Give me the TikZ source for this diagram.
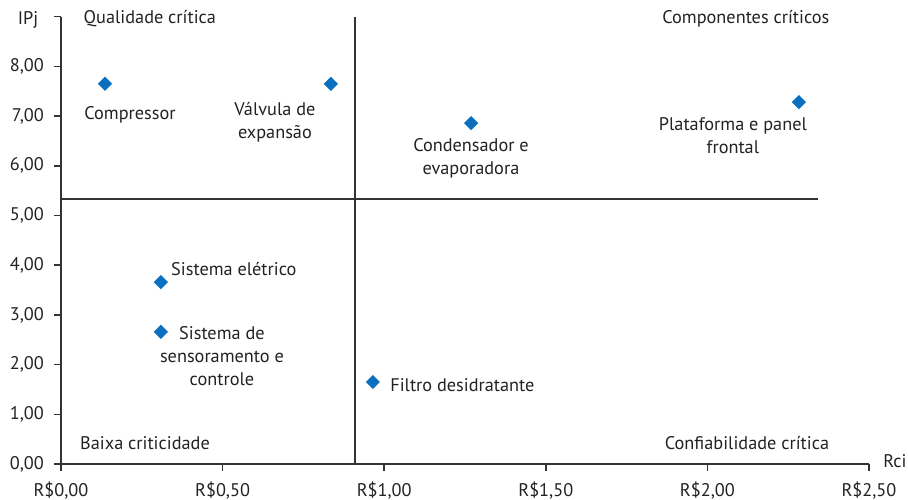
\documentclass[tikz,border=0pt]{standalone}
\usepackage{fontspec}
\setmainfont{PT Sans}
\usepackage{xcolor}
\definecolor{chartAxis}{HTML}{333333}
\definecolor{chartMark}{HTML}{0B6FBF}
\definecolor{chartText}{HTML}{222222}
\usetikzlibrary{shapes.geometric,positioning}
\tikzset{
    axisline/.style={
        draw=chartAxis,
        line width=0.9pt
    },
    divider/.style={
        draw=chartAxis,
        line width=1.1pt
    },
    point/.style={
        diamond,
        fill=chartMark,
        inner sep=0pt,
        minimum size=0.29cm
    },
    tag/.style={
        font=\fontsize{10.4}{13.2}\selectfont,
        text=chartText,
        align=center,
        inner sep=0pt
    },
    ticklabel/.style={
        tag,
        inner sep=1pt
    }
}

\begin{document}
\begin{tikzpicture}[x=6.464cm, y=0.994cm]
    \useasboundingbox (-0.1887,-0.7243) rectangle (2.6207,9.336);

    % Axes
    \coordinate (origin) at (0,0);
    \coordinate (ytop) at (0,9);
    \coordinate (xend) at (2.5,0);
    \draw[axisline] (ytop) -- (origin) -- (xend);
    \foreach \y in {0,...,9} {
        \draw[axisline] (0,\y) -- ++(-0.14cm,0);
    }
    \foreach \y in {0,...,8} {
        \node[ticklabel, anchor=east] at ([xshift=-0.3cm]0,\y) {\y,00};
    }
    \foreach \x/\lab in {0/{0,00}, 0.5/{0,50}, 1/{1,00}, 1.5/{1,50}, 2/{2,00}, 2.5/{2,50}} {
        \draw[axisline] (\x,0) -- ++(0,-0.14cm);
        \node[ticklabel] at ([yshift=-0.54cm]\x,0) {R\$\lab};
    }
    \node[tag] (ipj) at (-0.102,8.93) {IPj};
    \node[tag] (rci) at (2.580,0.06) {Rci};

    % Quadrant dividers
    \coordinate (vtop) at (0.91,9);
    \coordinate (vbot) at (0.91,0);
    \coordinate (hleft) at (0,5.33);
    \coordinate (hright) at (2.342,5.33);
    \draw[divider] (vtop) -- (vbot);
    \draw[divider] (hleft) -- (hright);

    % Quadrant titles
    \node[tag] (qual) at (0.275,8.954) {Qualidade crítica};
    \node[tag] (crit) at (2.119,8.954) {Componentes críticos};
    \node[tag] (baixa) at (0.260,0.4225) {Baixa criticidade};
    \node[tag] (conf) at (2.1225,0.4225) {Confiabilidade crítica};

    % Components
    \node[point] (comp) at (0.136,7.65) {};
    \node[point] (valv) at (0.835,7.65) {};
    \node[point] (cond) at (1.269,6.86) {};
    \node[point] (plat) at (2.283,7.28) {};
    \node[point] (eletr) at (0.309,3.66) {};
    \node[point] (senso) at (0.309,2.66) {};
    \node[point] (filtro) at (0.965,1.65) {};

    % Component labels
    \node[tag] at (0.2135,7.022) {Compressor};
    \node[tag] at (0.662,6.881) {Válvula de\\expansão};
    \node[tag] at (1.2686,6.157) {Condensador e\\evaporadora};
    \node[tag] at (2.079,6.600) {Plataforma e panel\\frontal};
    \node[tag, anchor=west] at (0.340,3.924) {Sistema elétrico};
    \node[tag] at (0.498,2.173) {Sistema de\\sensoramento e\\controle};
    \node[tag, anchor=west] at (1.018,1.590) {Filtro desidratante};
\end{tikzpicture}
\end{document}
